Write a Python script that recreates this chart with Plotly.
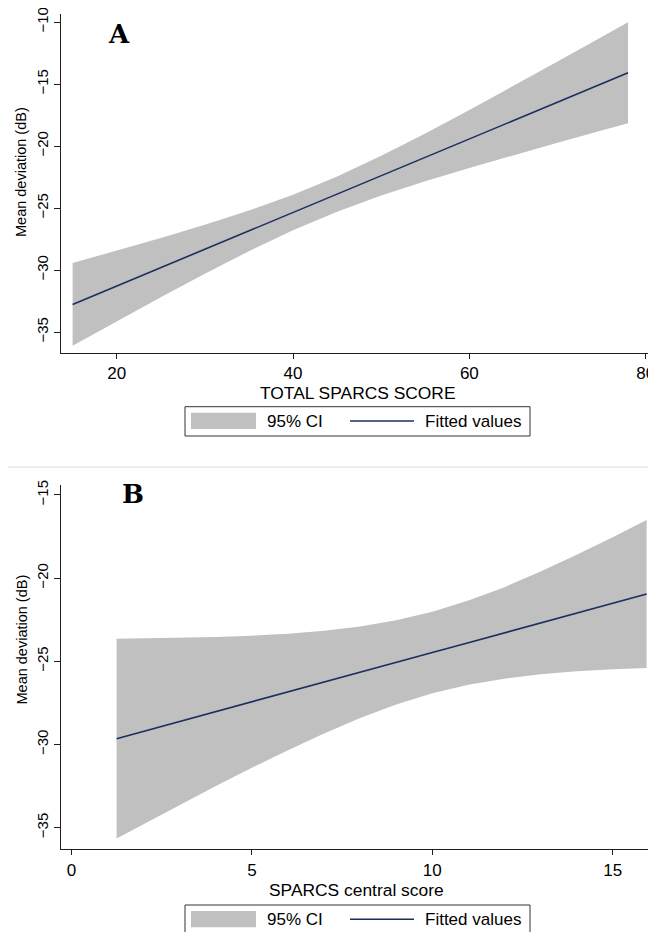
import plotly.graph_objects as go

# ---------------- data ----------------
# Panel A: TOTAL SPARCS SCORE vs mean deviation
a_x = [15, 20, 25, 30, 35, 40, 45, 50, 55, 60, 65, 70, 75, 78]
a_fit = [-32.77, -31.29, -29.80, -28.32, -26.84, -25.36, -23.87, -22.39,
         -20.91, -19.43, -17.95, -16.46, -14.98, -14.09]
a_upper = [-29.44, -28.45, -27.41, -26.35, -25.20, -23.93, -22.45, -20.79,
           -18.98, -17.09, -15.16, -13.19, -11.21, -10.02]
a_lower = [-36.10, -34.13, -32.19, -30.29, -28.48, -26.79, -25.29, -23.99,
           -22.84, -21.77, -20.74, -19.73, -18.75, -18.16]

# Panel B: SPARCS central score vs mean deviation
b_x = [1.25, 2, 3, 4, 5, 6, 7, 8, 9, 10, 11, 12, 13, 14, 15, 15.94]
b_fit = [-29.65, -29.21, -28.61, -28.02, -27.43, -26.84, -26.25, -25.65,
         -25.06, -24.47, -23.88, -23.29, -22.69, -22.10, -21.51, -20.95]
b_upper = [-23.65, -23.63, -23.59, -23.54, -23.46, -23.34, -23.16, -22.90,
           -22.53, -22.02, -21.35, -20.54, -19.60, -18.60, -17.54, -16.50]
b_lower = [-35.65, -34.79, -33.63, -32.50, -31.40, -30.34, -29.34, -28.40,
           -27.59, -26.92, -26.41, -26.04, -25.78, -25.60, -25.48, -25.40]

a_xticks = [20, 40, 60, 80]
a_yticks = [-35, -30, -25, -20, -15, -10]
b_xticks = [0, 5, 10, 15]
b_yticks = [-35, -30, -25, -20, -15]

x_titles = ["TOTAL SPARCS SCORE", "SPARCS central score"]
y_title = "Mean deviation (dB)"
legend_labels = ["95% CI", "Fitted values"]
panel_labels = ["A", "B"]

# ---------------- styling ----------------
# The page body keeps the browser's default 8px margin, so the figure is
# sized to end exactly at the 656x932 window edge.
OFF = 8
W, H = 656 - OFF, 932 - OFF
CI_COLOR = "#c0c0c0"
LINE_COLOR = "#1a2f5e"
AXIS_COLOR = "#1e1e1e"
FONT = "Liberation Sans, Arial, sans-serif"
LETTER_FONT = "DejaVu Serif, Liberation Serif, serif"


def px(x):
    """window pixel x -> paper fraction"""
    return (x - OFF) / W


def py(y):
    """window pixel y (from top) -> paper fraction"""
    return 1 - (y - OFF) / H


fig = go.Figure()


def add_panel(xs, lo, up, fit, xa, ya):
    fig.add_trace(go.Scatter(x=xs, y=lo, mode="lines", line=dict(width=0),
                             showlegend=False, hoverinfo="skip",
                             xaxis=xa, yaxis=ya))
    fig.add_trace(go.Scatter(x=xs, y=up, mode="lines", line=dict(width=0),
                             fill="tonexty", fillcolor=CI_COLOR,
                             name=legend_labels[0], showlegend=False,
                             xaxis=xa, yaxis=ya))
    fig.add_trace(go.Scatter(x=xs, y=fit, mode="lines",
                             line=dict(color=LINE_COLOR, width=1.6),
                             name=legend_labels[1], showlegend=False,
                             xaxis=xa, yaxis=ya))


add_panel(a_x, a_lower, a_upper, a_fit, "x", "y")
add_panel(b_x, b_lower, b_upper, b_fit, "x2", "y2")

axis_common = dict(showline=True, linecolor=AXIS_COLOR, linewidth=1,
                   ticks="outside", ticklen=6, tickcolor=AXIS_COLOR,
                   tickwidth=1, showgrid=False, zeroline=False,
                   fixedrange=True, automargin=False,
                   ticklabeloverflow="allow")

fig.update_layout(
    width=W, height=H,
    margin=dict(l=0, r=0, t=0, b=0, pad=0, autoexpand=False),
    paper_bgcolor="white", plot_bgcolor="white",
    font=dict(family=FONT, color="black"),
    showlegend=False,
    xaxis=dict(axis_common, domain=[px(60.7), px(656)], range=[13.65, 81.17],
               anchor="y", tickvals=a_xticks, tickfont=dict(size=17), ticklen=5),
    yaxis=dict(axis_common, domain=[py(353), py(14)], range=[-36.69, -9.35],
               anchor="x", tickvals=a_yticks, tickangle=-90,
               tickfont=dict(size=15)),
    xaxis2=dict(axis_common, domain=[px(60.7), px(656)], range=[-0.30, 16.20],
                anchor="y2", tickvals=b_xticks, tickfont=dict(size=17), ticklen=5),
    yaxis2=dict(axis_common, domain=[py(849.3), py(485)], range=[-36.30, -14.40],
                anchor="x2", tickvals=b_yticks, tickangle=-90,
                tickfont=dict(size=15)),
)

shapes = []
annotations = []

# axis titles (placed where the reference puts them)
for xc, yc, txt in ((358.4, 392.5, x_titles[0]), (357.0, 889.5, x_titles[1])):
    annotations.append(dict(xref="paper", yref="paper", x=px(xc), y=py(yc),
                            text=txt, showarrow=False, xanchor="center",
                            yanchor="middle",
                            font=dict(size=17.4, family=FONT, color="black")))
for yc in (172.5, 640.0):
    annotations.append(dict(xref="paper", yref="paper", x=px(21.5), y=py(yc),
                            text=y_title, showarrow=False, textangle=-90,
                            xanchor="center", yanchor="middle",
                            font=dict(size=14.5, family=FONT, color="black")))

# thin separator between the two graphs
shapes.append(dict(type="line", xref="paper", yref="paper",
                   x0=px(8), x1=px(656), y0=py(467), y1=py(467),
                   line=dict(color="#e4e9eb", width=1.5)))

# legends drawn as boxed keys (one per panel)
for top in (406.7, 905.0):
    shapes.append(dict(type="rect", xref="paper", yref="paper",
                       x0=px(185), x1=px(530), y0=py(top), y1=py(top + 29.3),
                       line=dict(color="#333333", width=1), fillcolor="white",
                       layer="above"))
    shapes.append(dict(type="rect", xref="paper", yref="paper",
                       x0=px(191), x1=px(256), y0=py(top + 6), y1=py(top + 22.3),
                       line=dict(width=0), fillcolor=CI_COLOR, layer="above"))
    mid = top + 14.3
    shapes.append(dict(type="line", xref="paper", yref="paper",
                       x0=px(350), x1=px(414), y0=py(mid), y1=py(mid),
                       line=dict(color=LINE_COLOR, width=1.6), layer="above"))
    annotations.append(dict(xref="paper", yref="paper", x=px(265), y=py(mid),
                            text=legend_labels[0], showarrow=False,
                            xanchor="left", yanchor="middle",
                            font=dict(size=17, family=FONT, color="black")))
    annotations.append(dict(xref="paper", yref="paper", x=px(423), y=py(mid),
                            text=legend_labels[1], showarrow=False,
                            xanchor="left", yanchor="middle",
                            font=dict(size=17, family=FONT, color="black")))

# panel letters
annotations.append(dict(xref="x", yref="y", x=20.3, y=-10.95, text=panel_labels[0],
                        showarrow=False, xanchor="center", yanchor="middle",
                        font=dict(size=26, family=LETTER_FONT,
                                  color="black", weight="bold")))
annotations.append(dict(xref="x2", yref="y2", x=1.71, y=-14.95, text=panel_labels[1],
                        showarrow=False, xanchor="center", yanchor="middle",
                        font=dict(size=26, family=LETTER_FONT,
                                  color="black", weight="bold")))

fig.update_layout(shapes=shapes, annotations=annotations)

fig.write_html("out.html")
